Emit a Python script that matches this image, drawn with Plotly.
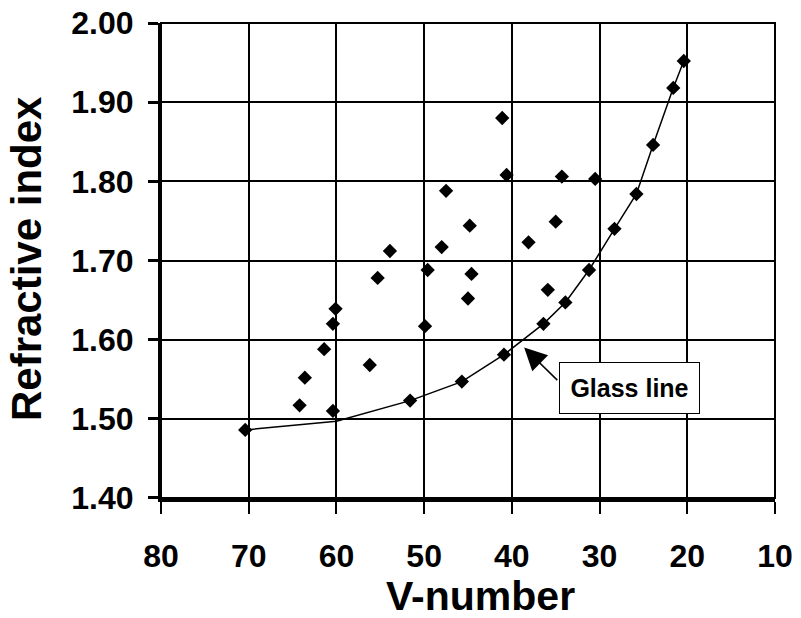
import plotly.graph_objects as go

# Glasses (V-number, refractive index)
glass_v = [53.9, 48.0, 55.3, 49.6, 44.6, 45.0, 60.1, 60.4, 49.9, 61.4, 56.2, 63.6,
           64.2, 60.4, 41.1, 40.6, 34.3, 30.5, 44.8, 38.1, 35.0, 47.5, 35.9,
           70.4, 51.6, 45.7, 40.9, 36.4, 33.9, 31.2, 28.3, 25.8, 23.9, 21.6, 20.4]
glass_n = [1.712, 1.717, 1.678, 1.688, 1.683, 1.652, 1.639, 1.620, 1.617, 1.588, 1.568, 1.552,
           1.517, 1.510, 1.880, 1.808, 1.806, 1.803, 1.744, 1.723, 1.749, 1.788, 1.663,
           1.486, 1.523, 1.547, 1.581, 1.620, 1.647, 1.688, 1.740, 1.784, 1.846, 1.918, 1.952]

# Glass line
line_v = [70.4, 60.0, 51.6, 45.7, 40.9, 36.4, 33.9, 31.2, 28.3, 25.8, 23.9, 21.6, 20.4]
line_n = [1.486, 1.497, 1.523, 1.547, 1.581, 1.620, 1.647, 1.688, 1.740, 1.784, 1.846, 1.918, 1.952]

x_ticks = [80, 70, 60, 50, 40, 30, 20, 10]
y_ticks = [1.40, 1.50, 1.60, 1.70, 1.80, 1.90, 2.00]

FONT = "Liberation Sans, Arial, sans-serif"

fig = go.Figure()
fig.add_trace(go.Scatter(x=line_v, y=line_n, mode="lines",
                         line=dict(color="black", width=1.5), hoverinfo="skip"))
fig.add_trace(go.Scatter(x=glass_v, y=glass_n, mode="markers",
                         marker=dict(symbol="diamond", size=11, color="black",
                                     line=dict(width=0))))

fig.update_layout(
    width=801, height=618,
    margin=dict(l=161, r=26, t=23, b=120, autoexpand=False),
    paper_bgcolor="white", plot_bgcolor="white",
    showlegend=False,
    font=dict(family=FONT, color="black"),
    xaxis=dict(range=[80.0001, 9.9999], tickvals=x_ticks, ticktext=[str(v) for v in x_ticks],
               showgrid=True, gridcolor="black", gridwidth=2,
               showline=True, linecolor="black", linewidth=4,
               ticks="outside", ticklen=12, tickwidth=2, tickcolor="black",
               tickfont=dict(size=32, weight=700, family=FONT),
               ticklabelstandoff=15, zeroline=False, automargin=False),
    yaxis=dict(range=[1.39999, 2.00001], tickvals=y_ticks, tickformat=".2f",
               showgrid=True, gridcolor="black", gridwidth=2,
               showline=True, linecolor="black", linewidth=3,
               ticks="outside", ticklen=10, tickwidth=3, tickcolor="black",
               tickfont=dict(size=32, weight=700, family=FONT),
               ticklabelstandoff=8, zeroline=False, automargin=False),
)

# plot border (top/right)
fig.add_shape(type="rect", xref="paper", yref="paper", x0=0, y0=0, x1=1, y1=1,
              line=dict(color="black", width=2), layer="above")

# axis titles
fig.add_annotation(text="<b>V-number</b>", xref="paper", yref="paper",
                   x=0.521, y=-0.207, showarrow=False,
                   font=dict(size=41, family=FONT, color="black"),
                   xanchor="center", yanchor="middle")
fig.add_annotation(text="<b>Refractive index</b>", xref="paper", yref="paper",
                   x=-0.22, y=0.505, showarrow=False, textangle=-90,
                   font=dict(size=42, family=FONT, color="black"),
                   xanchor="center", yanchor="middle")

# Glass line label and arrow
fig.add_annotation(text="<b>Glass line</b>", x=26.6, y=1.5393, xref="x", yref="y",
                   showarrow=False, bgcolor="white", bordercolor="black",
                   borderwidth=1, borderpad=1, width=137, height=48,
                   font=dict(size=25, family=FONT, color="black"))
fig.add_annotation(text="", x=38.6, y=1.590, xref="x", yref="y",
                   ax=34.65, ay=1.547, axref="x", ayref="y",
                   showarrow=True, arrowhead=2, arrowsize=3, arrowwidth=1.5,
                   arrowcolor="black", standoff=0)

fig.write_html("out.html", config={"displayModeBar": False})

# remove the default page margin so the figure sits at the window's top-left
with open("out.html", "r", encoding="utf-8") as f:
    html = f.read()
html = html.replace("<head>", "<head><style>html,body{margin:0;padding:0;overflow:hidden;}</style>", 1)
with open("out.html", "w", encoding="utf-8") as f:
    f.write(html)
